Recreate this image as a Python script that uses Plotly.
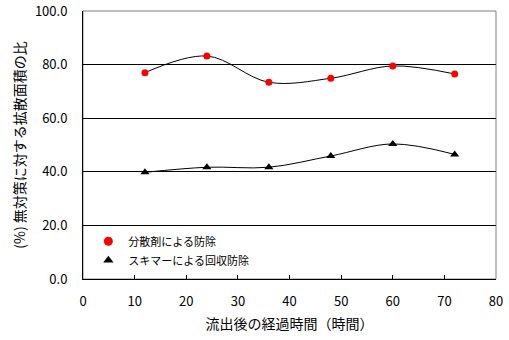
import plotly.graph_objects as go

hours = [12, 24, 36, 48, 60, 72]
dispersant = [77.0, 83.2, 73.4, 74.9, 79.5, 76.5]
skimmer = [39.8, 41.7, 41.7, 45.9, 50.4, 46.5]
y_ticks = [0, 20, 40, 60, 80, 100]
x_ticks = [0, 10, 20, 30, 40, 50, 60, 70, 80]
names = ["分散剤による防除", "スキマーによる回収防除"]

FONT = "Noto Sans CJK JP"

fig = go.Figure()
fig.add_trace(go.Scatter(
    x=hours, y=dispersant, mode="lines+markers", showlegend=False,
    line=dict(color="black", width=1, shape="spline", smoothing=1),
    marker=dict(symbol="circle", size=7, color="#ff0000"),
))
fig.add_trace(go.Scatter(
    x=hours, y=skimmer, mode="lines+markers", showlegend=False,
    line=dict(color="black", width=1, shape="spline", smoothing=1),
    marker=dict(symbol="triangle-up", size=8, color="black"),
))
# legend entries (markers only)
fig.add_trace(go.Scatter(
    x=[None], y=[None], mode="markers", name=names[0],
    marker=dict(symbol="circle", size=9, color="#ff0000"),
))
fig.add_trace(go.Scatter(
    x=[None], y=[None], mode="markers", name=names[1],
    marker=dict(symbol="triangle-up", size=9, color="black"),
))

fig.add_shape(type="rect", xref="paper", yref="paper", x0=0, x1=1, y0=0, y1=1,
              line=dict(color="#808080", width=1), layer="below")

fig.update_layout(
    width=509, height=340,
    margin=dict(l=83, r=13, t=11, b=61),
    paper_bgcolor="white", plot_bgcolor="white",
    font=dict(family=FONT, size=12, color="black"),
    showlegend=True,
    legend=dict(x=0.013, y=0.195, xanchor="left", yanchor="top",
                bgcolor="rgba(0,0,0,0)", borderwidth=0,
                font=dict(size=11, family=FONT),
                tracegroupgap=0, itemwidth=30),
    xaxis=dict(range=[0, 80], tickvals=x_ticks, ticks="inside", ticklen=4,
               tickcolor="black", showgrid=False, zeroline=False,
               showline=True, linecolor="black", linewidth=1, automargin=False,
               ticklabelstandoff=10,
               title=dict(text="流出後の経過時間（時間）", standoff=10,
                          font=dict(size=14, family=FONT)),
               tickfont=dict(size=13, family=FONT)),
    yaxis=dict(range=[0, 100], tickvals=y_ticks, tickformat=".1f",
               showgrid=True, gridcolor="black", gridwidth=1, automargin=False,
               zeroline=False, showline=True, linecolor="black", linewidth=1,
               ticks="", ticklabelstandoff=12,
               title=dict(text="(%) 無対策に対する拡散面積の比", standoff=6,
                          font=dict(size=14, family=FONT)),
               tickfont=dict(size=13, family=FONT)),
)

fig.write_html("out.html")
